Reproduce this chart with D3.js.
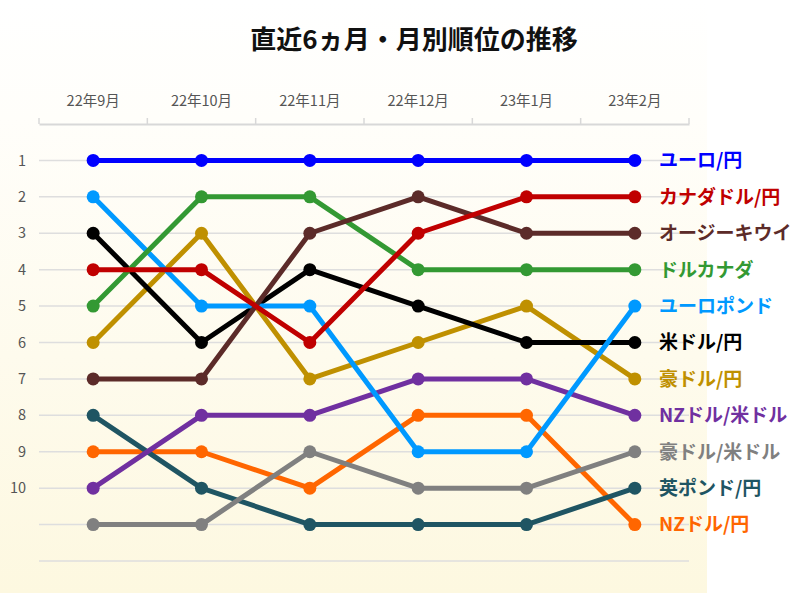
<!DOCTYPE html>
<html><head><meta charset="utf-8">
<script src="https://cdn.jsdelivr.net/npm/d3@7"></script>
<style>body{margin:0;background:#fff}svg{display:block}</style>
</head><body>
<script>
const months = ["22年9月","22年10月","22年11月","22年12月","23年1月","23年2月"];
const rankTicks = [1,2,3,4,5,6,7,8,9,10];
const seriesNames = ["ユーロ/円","カナダドル/円","オージーキウイ","ドルカナダ","ユーロポンド","米ドル/円","豪ドル/円","NZドル/米ドル","豪ドル/米ドル","英ポンド/円","NZドル/円"];
const seriesColors = ["#0000ff","#c00000","#5c2b29","#339933","#0099ff","#000000","#bf9000","#7030a0","#808080","#1f5563","#ff6600"];
const eurJpy = [1,1,1,1,1,1];
const cadJpy = [4,4,6,3,2,2];
const audNzd = [7,7,3,2,3,3];
const usdCad = [5,2,2,4,4,4];
const eurGbp = [2,5,5,9,9,5];
const usdJpy = [3,6,4,5,6,6];
const audJpy = [6,3,7,6,5,7];
const nzdUsd = [10,8,8,7,7,8];
const audUsd = [11,11,9,10,10,9];
const gbpJpy = [8,10,11,11,11,10];
const nzdJpy = [9,9,10,8,8,11];
const seriesValues = [eurJpy,cadJpy,audNzd,usdCad,eurGbp,usdJpy,audJpy,nzdUsd,audUsd,gbpJpy,nzdJpy];

const W=800,H=593;
const svg=d3.select("body").append("svg").attr("width",W).attr("height",H);
const defs=svg.append("defs");
const grad=defs.append("linearGradient").attr("id","bg").attr("x1",0).attr("y1",0).attr("x2",0).attr("y2",1);
grad.append("stop").attr("offset","0%").attr("stop-color","#ffffff");
grad.append("stop").attr("offset","20%").attr("stop-color","#fffefa");
grad.append("stop").attr("offset","100%").attr("stop-color","#fdf8e0");
svg.append("rect").attr("x",0).attr("y",0).attr("width",707).attr("height",H).attr("fill","url(#bg)");

const font='"Noto Sans CJK JP","Noto Sans",sans-serif';
svg.append("text").attr("x",414).attr("y",49).attr("text-anchor","middle")
  .attr("font-family",font).attr("font-weight","bold").attr("font-size",26).attr("fill","#111")
  .text("直近6ヵ月・月別順位の推移");

const x=d3.scaleBand().domain(months).range([39,689]);
const y=d3.scaleLinear().domain([0,12]).range([124,561]);

// gridlines
svg.append("g").selectAll("line").data(d3.range(1,13)).join("line")
  .attr("x1",39).attr("x2",689).attr("y1",d=>y(d)).attr("y2",d=>y(d))
  .attr("stroke","#dedede").attr("stroke-width",1.5);

// top axis
const gx=svg.append("g").attr("transform","translate(0,124)")
  .call(d3.axisTop(x).tickSize(0).tickPadding(18));
gx.select(".domain").attr("stroke","#d8d8d8").attr("stroke-width",2);
gx.selectAll("text").attr("font-family",font).attr("font-size",14.5).attr("fill","#555");
gx.append("g").selectAll("line").data(months.map(m=>x(m)).concat([689])).join("line")
  .attr("x1",d=>d).attr("x2",d=>d).attr("y1",0).attr("y2",-6).attr("stroke","#d8d8d8").attr("stroke-width",1.5);

// left axis labels
const gy=svg.append("g").attr("transform","translate(26,0)")
  .call(d3.axisLeft(y).tickValues(rankTicks).tickSize(0).tickPadding(0));
gy.select(".domain").remove();
gy.selectAll("text").attr("font-family",font).attr("font-size",14.5).attr("fill","#555");

const line=d3.line().x((d,i)=>x(months[i])+x.bandwidth()/2).y(d=>y(d));
const order=d3.range(seriesNames.length).reverse();
const g=svg.append("g");
order.forEach(k=>{
  const s=g.append("g");
  s.append("path").datum(seriesValues[k]).attr("d",line).attr("fill","none")
    .attr("stroke",seriesColors[k]).attr("stroke-width",5).attr("stroke-linejoin","round");
  s.selectAll("circle").data(seriesValues[k]).join("circle")
    .attr("cx",(d,i)=>x(months[i])+x.bandwidth()/2).attr("cy",d=>y(d)).attr("r",6.5)
    .attr("fill",seriesColors[k]);
});

// right labels
svg.append("g").selectAll("text").data(seriesNames).join("text")
  .attr("x",659).attr("y",(d,k)=>y(seriesValues[k][5])).attr("dy","0.36em")
  .attr("font-family",font).attr("font-weight","bold").attr("font-size",19)
  .attr("fill",(d,k)=>seriesColors[k]).text(d=>d);
</script>
</body></html>
